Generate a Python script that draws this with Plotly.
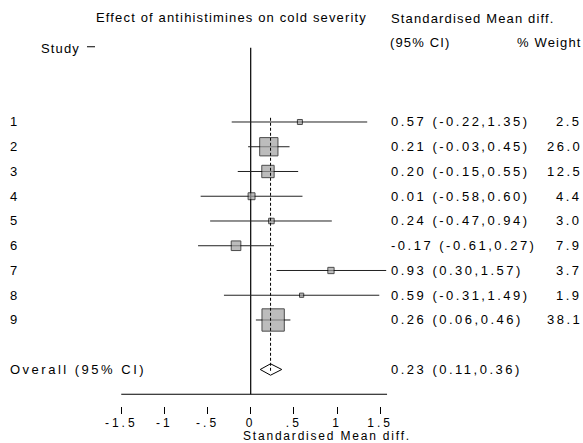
import plotly.graph_objects as go

# ---------------- data ----------------
studies = ["1", "2", "3", "4", "5", "6", "7", "8", "9"]
smd = [0.57, 0.21, 0.20, 0.01, 0.24, -0.17, 0.93, 0.59, 0.26]
ci_lo = [-0.22, -0.03, -0.15, -0.58, -0.47, -0.61, 0.30, -0.31, 0.06]
ci_hi = [1.35, 0.45, 0.55, 0.60, 0.94, 0.27, 1.57, 1.49, 0.46]
weights = [2.5, 26.0, 12.5, 4.4, 3.0, 7.9, 3.7, 1.9, 38.1]

overall_est = 0.23
overall_lo = 0.11
overall_hi = 0.36

tick_vals = [-1.5, -1, -0.5, 0, 0.5, 1, 1.5]
tick_text = ["-1.5", "-1", "-.5", "0", ".5", "1", "1.5"]

title_text = "Effect of antihistimines on cold severity"
effect_label = "Standardised Mean diff."
ci_label = "(95% CI)"
weight_label = "% Weight"
overall_label = "Overall (95% CI)"

# ---------------- layout helpers ----------------
FONT = "Liberation Sans, Arial, Helvetica, sans-serif"
HDR_SP = 1.15  # letter spacing for header texts
DAT_SP = 2.5   # letter spacing for data texts


def sp(text, s):
    return f'<span style="letter-spacing:{s}px">{text}</span>'


rows = [3 + i for i in range(len(studies))]
overall_row = 13
axis_row = 14

fig = go.Figure()

# CI lines
xs, ys = [], []
for lo, hi, r in zip(ci_lo, ci_hi, rows):
    xs += [lo, hi, None]
    ys += [r, r, None]
fig.add_trace(go.Scatter(x=xs, y=ys, mode="lines",
                         line=dict(color="#222222", width=1),
                         hoverinfo="skip", showlegend=False))

# weighted squares
sizes = [3.78 * (w ** 0.5) - 1 for w in weights]
fig.add_trace(go.Scatter(x=smd, y=rows, mode="markers",
                         marker=dict(symbol="square", size=sizes,
                                     color="#a0a0a0",
                                     line=dict(color="black", width=1)),
                         hoverinfo="skip", showlegend=False))

# overall diamond
dh = 0.23
fig.add_trace(go.Scatter(
    x=[overall_lo, overall_est, overall_hi, overall_est, overall_lo],
    y=[overall_row, overall_row - dh, overall_row, overall_row + dh, overall_row],
    mode="lines", fill="toself", fillcolor="white",
    line=dict(color="black", width=1),
    hoverinfo="skip", showlegend=False))

# dashed overall line
fig.add_trace(go.Scatter(x=[overall_est, overall_est], y=[rows[0] - 0.17, overall_row + 0.12],
                         mode="lines",
                         line=dict(color="black", width=1, dash="3px,2px"),
                         hoverinfo="skip", showlegend=False))

# null line and x axis line
fig.add_shape(type="line", x0=0, x1=0, y0=0, y1=axis_row,
              line=dict(color="black", width=1.2), layer="below")
fig.add_shape(type="line", x0=tick_vals[0], x1=max(ci_hi) + 0.01, y0=axis_row, y1=axis_row,
              line=dict(color="black", width=1.2), layer="below")
# tick next to "Study"
fig.add_shape(type="line", x0=-1.897, x1=-1.804, y0=-0.04, y1=-0.04,
              line=dict(color="black", width=1))

ann = []


def add(text, x, y, anchor="left", s=DAT_SP, yref="y", size=13):
    ann.append(dict(text=sp(text, s), x=x, y=y, xref="x", yref=yref,
                    xanchor=anchor, yanchor="middle", showarrow=False,
                    borderpad=0, borderwidth=0,
                    font=dict(family=FONT, size=size, color="black")))


# headers
add(title_text, -1.795, -1.22, s=HDR_SP)
add(effect_label, 1.625, -1.18, s=HDR_SP)
add(ci_label, 1.615, -0.22, s=HDR_SP)
add(weight_label, 3.835, -0.22, anchor="right", s=HDR_SP)
add("Study", -2.43, 0.02, s=HDR_SP)

# study rows
for name, m, lo, hi, w, r in zip(studies, smd, ci_lo, ci_hi, weights, rows):
    add(name, -2.789, r)
    add(f"{m:.2f} ({lo:.2f},{hi:.2f})", 1.63, r)
    add(f"{w:.1f}", 3.84, r, anchor="right")

add(overall_label, -2.789, overall_row)
add(f"{overall_est:.2f} ({overall_lo:.2f},{overall_hi:.2f})", 1.63, overall_row)

# x title
add(effect_label, -0.09, -0.074, s=1.8, yref="paper", size=12)

fig.update_layout(
    width=583, height=443,
    margin=dict(l=0, r=0, t=0, b=37, pad=0),
    paper_bgcolor="white", plot_bgcolor="white",
    font=dict(family=FONT, size=13, color="black"),
    annotations=ann,
    xaxis=dict(range=[-250.7 / 86.3, 332.3 / 86.3], showgrid=False, zeroline=False,
               showline=False, ticks="outside", ticklen=7, tickwidth=1,
               tickcolor="black", ticklabelstandoff=-1,
               tickvals=tick_vals, ticktext=[sp(t, 3.0) for t in tick_text],
               tickfont=dict(family=FONT, size=12, color="black")),
    yaxis=dict(range=[14.475, -1.929], showgrid=False, zeroline=False,
               showline=False, showticklabels=False, ticks=""),
)

fig.write_html("out.html", config={"displayModeBar": False},
               post_script="document.body.style.margin='0';document.body.style.padding='0';")
